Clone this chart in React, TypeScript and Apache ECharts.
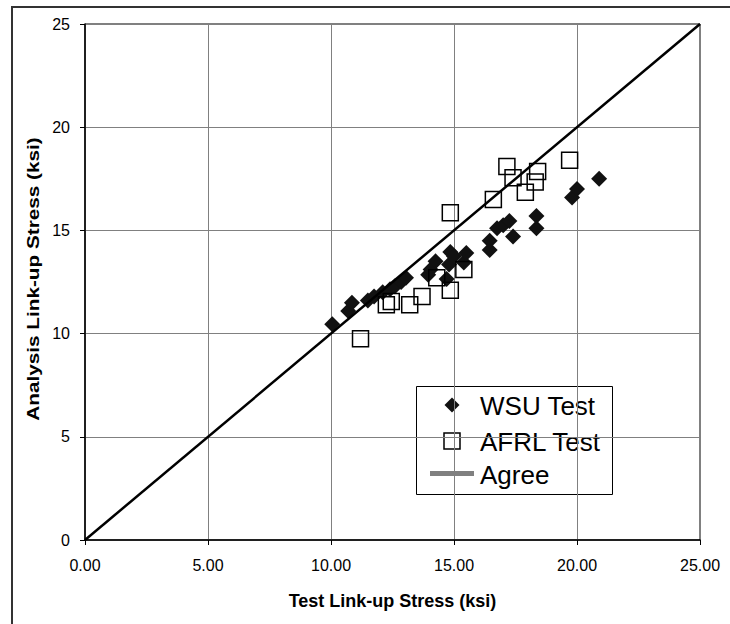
import React, { useEffect, useRef } from "react";
import * as echarts from "echarts";

const wsuX = [10.05, 10.7, 10.85, 11.5, 11.75, 12.1, 12.4, 12.6, 12.85, 13.05, 13.95, 14.05, 14.25, 14.7, 14.8, 14.85, 15.0, 15.4, 15.5, 16.45, 16.45, 16.75, 17.0, 17.25, 17.4, 18.35, 18.35, 19.8, 20.0, 20.9];
const wsuY = [10.45, 11.1, 11.5, 11.6, 11.8, 12.0, 12.15, 12.3, 12.5, 12.7, 12.85, 13.1, 13.5, 12.65, 13.35, 13.95, 13.75, 13.45, 13.9, 14.05, 14.5, 15.1, 15.25, 15.45, 14.7, 15.1, 15.7, 16.6, 17.0, 17.5];
const afrlX = [11.2, 12.25, 12.45, 13.2, 13.7, 14.3, 14.85, 15.4, 14.85, 16.6, 17.15, 17.4, 17.9, 18.3, 18.4, 19.7];
const afrlY = [9.75, 11.4, 11.55, 11.4, 11.8, 12.7, 12.1, 13.1, 15.85, 16.5, 18.1, 17.55, 16.85, 17.35, 17.85, 18.4];
const agreeX = [0, 25];
const agreeY = [0, 25];
const seriesNames = ["WSU Test", "AFRL Test", "Agree"];
const xTitle = "Test Link-up Stress (ksi)";
const yTitle = "Analysis Link-up Stress (ksi)";

const FONT = "'Liberation Sans', Arial, sans-serif";

export default function App() {
  const ref = useRef<HTMLDivElement>(null);
  useEffect(() => {
    if (!ref.current) return;
    const chart = echarts.init(ref.current, undefined, { renderer: "svg" });
    const zip = (xs: number[], ys: number[]) => xs.map((x, i) => [x, ys[i]]);
    const lgX = 416;
    const lgY = 386;
    const iconCx = 452;
    const textX = 480;
    const rows = [405, 441, 473.5];
    chart.setOption({
      animation: false,
      backgroundColor: "#fff",
      grid: {
        left: 85,
        right: 30,
        top: 24,
        bottom: 84,
        show: true,
        borderColor: "#000",
        borderWidth: 1,
      },
      legend: { show: false, data: seriesNames },
      graphic: [
        {
          type: "rect",
          shape: { x: 12, y: 7, width: 740, height: 640 },
          style: { fill: "none", stroke: "#333", lineWidth: 2 },
          silent: true,
          z: 0,
        },
        {
          type: "text",
          x: 33,
          y: 279,
          rotation: Math.PI / 2,
          scaleX: 1.22,
          style: {
            text: yTitle,
            font: `bold 17px ${FONT}`,
            fill: "#000",
            align: "center",
            verticalAlign: "middle",
          },
          z: 10,
        },
        {
          type: "group",
          z: 100,
          children: [
            {
              type: "rect",
              shape: { x: lgX + 0.5, y: lgY + 0.5, width: 196, height: 108 },
              style: { fill: "#fff", stroke: "#000", lineWidth: 1 },
            },
            {
              type: "polygon",
              shape: {
                points: [
                  [iconCx, rows[0] - 7.5],
                  [iconCx + 7.5, rows[0]],
                  [iconCx, rows[0] + 7.5],
                  [iconCx - 7.5, rows[0]],
                ],
              },
              style: { fill: "#111" },
            },
            {
              type: "rect",
              shape: { x: iconCx - 8, y: rows[1] - 8, width: 16, height: 16 },
              style: { fill: "none", stroke: "#000", lineWidth: 1.5 },
            },
            {
              type: "line",
              shape: { x1: 430, y1: rows[2], x2: 474, y2: rows[2] },
              style: { stroke: "#808080", lineWidth: 5 },
            },
            ...seriesNames.map((n, i) => ({
              type: "text",
              x: textX,
              y: rows[i] + 1,
              style: {
                text: n,
                font: `26px ${FONT}`,
                fill: "#000",
                align: "left",
                verticalAlign: "middle",
              },
            })),
          ],
        },
      ],
      xAxis: {
        type: "value",
        min: 0,
        max: 25,
        interval: 5,
        name: xTitle,
        nameLocation: "middle",
        nameGap: 52,
        nameTextStyle: { fontFamily: FONT, fontSize: 18, fontWeight: "bold", color: "#000" },
        axisLine: { show: true, lineStyle: { color: "#000", width: 1.5 } },
        axisTick: { show: true, length: 5, lineStyle: { color: "#000" } },
        axisLabel: {
          fontFamily: FONT,
          fontSize: 16,
          color: "#000",
          margin: 17,
          formatter: (v: number) => v.toFixed(2),
        },
        splitLine: { show: true, lineStyle: { color: "#808080", width: 1 } },
      },
      yAxis: {
        type: "value",
        min: 0,
        max: 25,
        interval: 5,
        axisLine: { show: true, lineStyle: { color: "#000", width: 1.5 } },
        axisTick: { show: true, length: 5, lineStyle: { color: "#000" } },
        axisLabel: { fontFamily: FONT, fontSize: 16, color: "#000", margin: 15 },
        splitLine: { show: true, lineStyle: { color: "#808080", width: 1 } },
      },
      series: [
        {
          name: seriesNames[0],
          type: "scatter",
          symbol: "diamond",
          symbolSize: 16,
          itemStyle: { color: "#111", opacity: 1 },
          data: zip(wsuX, wsuY),
        },
        {
          name: seriesNames[1],
          type: "scatter",
          symbol: "rect",
          symbolSize: 16,
          itemStyle: { color: "rgba(0,0,0,0)", borderColor: "#000", borderWidth: 1.5, opacity: 1 },
          data: zip(afrlX, afrlY),
        },
        {
          name: seriesNames[2],
          type: "line",
          symbol: "none",
          lineStyle: { color: "#000", width: 2.5 },
          itemStyle: { color: "#000" },
          data: zip(agreeX, agreeY),
        },
      ],
    });
    return () => chart.dispose();
  }, []);
  return (
    <div
      ref={ref}
      style={{ position: "fixed", left: 0, top: 0, width: 730, height: 624, background: "#fff" }}
    />
  );
}
